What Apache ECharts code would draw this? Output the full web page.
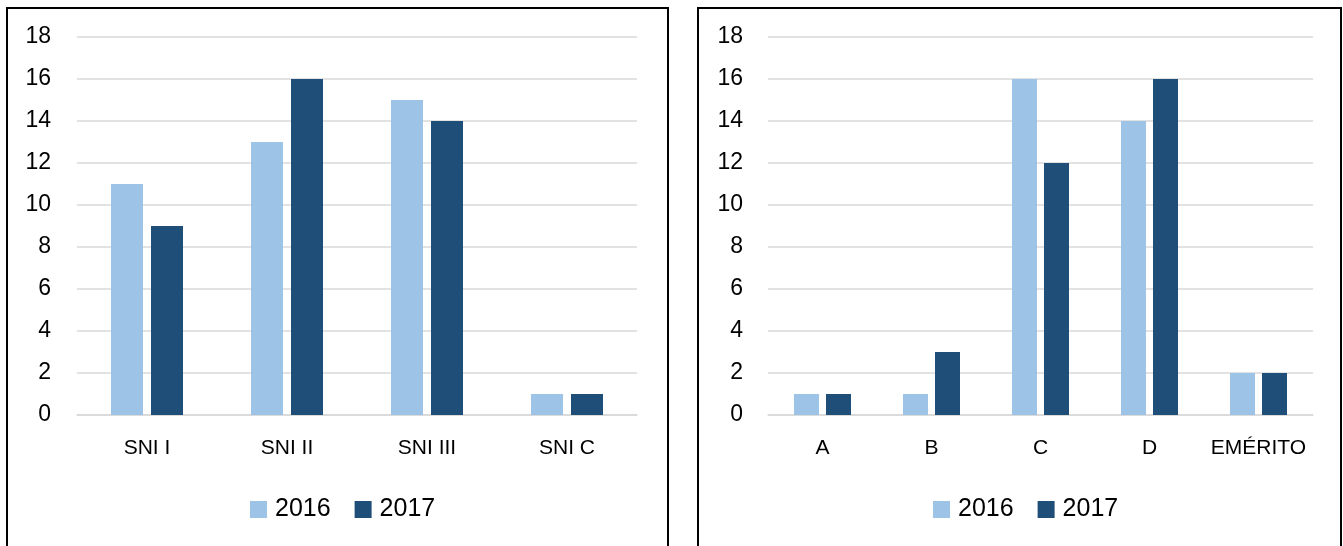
<!DOCTYPE html>
<html>
<head>
<meta charset="utf-8">
<script src="https://cdn.jsdelivr.net/npm/echarts@6/dist/echarts.min.js"></script>
<style>
  html, body { margin: 0; padding: 0; background: #fff; }
  #chart { width: 1343px; height: 546px; }
</style>
</head>
<body>
<div id="chart"></div>
<script>
const years = ['2016', '2017']
const sniCategories = ['SNI I', 'SNI II', 'SNI III', 'SNI C']
const sni2016 = [11, 13, 15, 1]
const sni2017 = [9, 16, 14, 1]
const levelCategories = ['A', 'B', 'C', 'D', 'EMÉRITO']
const level2016 = [1, 1, 16, 14, 2]
const level2017 = [1, 3, 12, 16, 2]

const colorLight = '#9DC3E6'
const colorDark = '#1F4E79'
const gridColor = '#D9D9D9'
const font = '"Liberation Sans", Arial, sans-serif'

const chart = echarts.init(document.getElementById('chart'))

const xAxisBase = (cats, idx) => ({
  type: 'category',
  gridIndex: idx,
  data: cats,
  axisLine: { show: true, lineStyle: { color: gridColor, width: 1.5 } },
  axisTick: { show: false },
  axisLabel: { color: '#000', fontSize: 21, fontFamily: font, margin: 23, interval: 0 },
})

const yAxisBase = (idx, margin) => ({
  type: 'value',
  gridIndex: idx,
  min: 0,
  max: 18,
  interval: 2,
  axisLine: { show: false },
  axisTick: { show: false },
  axisLabel: { color: '#000', fontSize: 23, fontFamily: font, margin: margin },
  splitLine: { lineStyle: { color: gridColor, width: 1.5 } },
})

const legendBase = (left) => ({
  data: years,
  left: left,
  top: 492,
  itemWidth: 17,
  itemHeight: 17,
  itemGap: 24,
  icon: 'rect',
  textStyle: { color: '#000', fontSize: 25, fontFamily: font, padding: [0, 0, 0, 3], lineHeight: 25 },
})

const option = {
  animation: false,
  graphic: [
    { type: 'rect', shape: { x: 7, y: 8, width: 661, height: 560 }, style: { fill: 'none', stroke: '#000', lineWidth: 2 } },
    { type: 'rect', shape: { x: 698, y: 8, width: 643, height: 560 }, style: { fill: 'none', stroke: '#000', lineWidth: 2 } },
  ],
  grid: [
    { left: 77, top: 37, width: 560, height: 378 },
    { left: 768, top: 37, width: 545, height: 378 },
  ],
  legend: [legendBase(245), legendBase(928)],
  xAxis: [xAxisBase(sniCategories, 0), xAxisBase(levelCategories, 1)],
  yAxis: [yAxisBase(0, 26), yAxisBase(1, 25)],
  series: [
    { name: '2016', type: 'bar', xAxisIndex: 0, yAxisIndex: 0, data: sni2016, barWidth: 32, barGap: '25%', itemStyle: { color: colorLight } },
    { name: '2017', type: 'bar', xAxisIndex: 0, yAxisIndex: 0, data: sni2017, barWidth: 32, barGap: '25%', itemStyle: { color: colorDark } },
    { name: '2016', type: 'bar', xAxisIndex: 1, yAxisIndex: 1, data: level2016, barWidth: 25, barGap: '28%', itemStyle: { color: colorLight } },
    { name: '2017', type: 'bar', xAxisIndex: 1, yAxisIndex: 1, data: level2017, barWidth: 25, barGap: '28%', itemStyle: { color: colorDark } },
  ],
}

chart.setOption(option)
</script>
</body>
</html>
